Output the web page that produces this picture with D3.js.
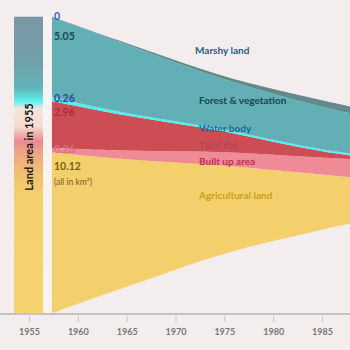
<!DOCTYPE html>
<html>
<head>
<meta charset="utf-8">
<script src="https://cdn.jsdelivr.net/npm/d3@7"></script>
<style>
  html, body { margin: 0; padding: 0; background: #f3eeed; }
  svg { display: block; font-family: Lato, "Noto Sans", sans-serif; }
</style>
</head>
<body>
<svg id="chart" width="350" height="350"></svg>
<script>
// Land use in km², stacked bottom to top
const years       = [1957.35, 1960, 1965, 1970, 1975, 1980, 1985, 1990];
const agricultural = [10.12, 9.37, 8.02, 6.73, 5.50, 4.47, 3.46, 2.52];
const builtUp      = [0.26, 0.36, 0.55, 0.71, 0.86, 0.96, 1.06, 1.19];
const tidalFlat    = [2.96, 2.70, 2.18, 1.74, 1.32, 0.80, 0.36, 0.13];
const waterBody    = [0.26, 0.19, 0.16, 0.14, 0.13, 0.13, 0.13, 0.13];
const forest       = [5.05, 4.81, 4.34, 3.70, 3.08, 2.89, 2.69, 2.39];
const marshy       = [0.00, 0.03, 0.08, 0.13, 0.18, 0.31, 0.40, 0.47];
const tickYears = [1955, 1960, 1965, 1970, 1975, 1980, 1985];

const keys = ['agri', 'built', 'tidal', 'water', 'forest', 'marshy'];
const colors = { agri: '#f4d06c', built: '#ef8b97', tidal: '#cd4d55', water: '#52eef2', forest: '#62afb5', marshy: '#5f8b8d' };
const names = { marshy: 'Marshy land', forest: 'Forest & vegetation', water: 'Water body', tidal: 'Tidal flat', built: 'Built up area', agri: 'Agricultural land' };
const nameColors = { marshy: '#1f5f7f', forest: '#17474a', water: '#1a6a9a', tidal: '#b04555', built: '#c0304a', agri: '#c9a018' };

const rows = years.map((yr, i) => ({
  year: yr, agri: agricultural[i], built: builtUp[i], tidal: tidalFlat[i],
  water: waterBody[i], forest: forest[i], marshy: marshy[i]
}));

const svg = d3.select('#chart');
const W = 350, H = 350;
const x = d3.scaleLinear().domain([1955, 1990]).range([29, 29 + 35 * 9.767]);
const y = d3.scaleLinear().domain([-10, 10]).range([165 + 159, 165 - 159]);

const series = d3.stack().keys(keys).offset(d3.stackOffsetSilhouette)(rows);

// Left bar with gradient of 1955 shares
const defs = svg.append('defs');
const grad = defs.append('linearGradient').attr('id', 'barGrad')
  .attr('x1', 0).attr('y1', 0).attr('x2', 0).attr('y2', 1);
[[0, '#7a97a4'], [0.15, '#70a0a9'], [0.24, '#62b4b8'], [0.285, '#5ef2f0'],
 [0.31, '#f3e6dc'], [0.37, '#f5dccf'], [0.42, '#ea8a92'], [0.46, '#eea585'],
 [0.52, '#f1bd72'], [0.6, '#f4d06c'], [1, '#f5d470']]
  .forEach(([o, c]) => grad.append('stop').attr('offset', o).attr('stop-color', c));

const yTop = y(series[series.length - 1][0][1]);
const yBot = y(series[0][0][0]);
svg.append('rect').attr('x', 14).attr('y', yTop).attr('width', 29).attr('height', yBot - yTop)
  .attr('fill', 'url(#barGrad)');
svg.append('rect').attr('x', 43).attr('y', yTop).attr('width', 9).attr('height', yBot - yTop)
  .attr('fill', '#f7f3f3');

svg.append('text').attr('transform', `translate(33,147) rotate(-90)`)
  .attr('text-anchor', 'middle').attr('font-size', 11).attr('font-weight', 700)
  .attr('fill', '#111').text('Land area in 1955');

// Stream
const area = d3.area().curve(d3.curveBasis)
  .x(d => x(d.data.year)).y0(d => y(d[0])).y1(d => y(d[1]));
svg.append('g').selectAll('path').data(series).join('path')
  .attr('d', area).attr('fill', d => colors[d.key]);

// 1955 values at stream start
const first = rows[0];
const valLabels = [
  { key: 'marshy', y: 20, c: '#3563c4' },
  { key: 'forest', y: 40, c: '#1d4a50' },
  { key: 'water', y: 102, c: '#1f4fa0' },
  { key: 'tidal', y: 116, c: '#a8303a' },
  { key: 'built', y: 153, c: '#dc6e7c' },
  { key: 'agri', y: 170, c: '#7a6010' }
];
svg.append('g').selectAll('text').data(valLabels).join('text')
  .attr('x', 54).attr('y', d => d.y).attr('font-size', 10.5).attr('font-weight', 700)
  .attr('fill', d => d.c).text(d => first[d.key] === 0 ? '0' : first[d.key].toFixed(2));
svg.append('text').attr('x', 54).attr('y', 185).attr('font-size', 8.5)
  .attr('fill', '#7a6020').text('(all in km²)');

// Layer names
const namePos = [
  { key: 'marshy', x: 195, y: 54 }, { key: 'forest', x: 199, y: 104 },
  { key: 'water', x: 199, y: 132 }, { key: 'tidal', x: 199, y: 149 },
  { key: 'built', x: 199, y: 165 }, { key: 'agri', x: 199, y: 199 }
];
svg.append('g').selectAll('text').data(namePos).join('text')
  .attr('x', d => d.x).attr('y', d => d.y).attr('font-size', 10).attr('font-weight', 700)
  .attr('fill', d => nameColors[d.key]).text(d => names[d.key]);

// Axis
svg.append('line').attr('x1', 0).attr('x2', W).attr('y1', 314).attr('y2', 314)
  .attr('stroke', '#c4c2c2').attr('stroke-width', 2);
const ax = svg.append('g').attr('transform', 'translate(0,316)')
  .call(d3.axisBottom(x).tickValues(tickYears).tickFormat(d3.format('d')).tickSize(6).tickPadding(7));
ax.select('.domain').remove();
ax.selectAll('.tick line').attr('stroke', '#c4c2c2');
ax.selectAll('.tick text').attr('fill', '#777').attr('font-size', 9).attr('font-weight', 700)
  .attr('font-family', 'Lato, sans-serif');
</script>
</body>
</html>
